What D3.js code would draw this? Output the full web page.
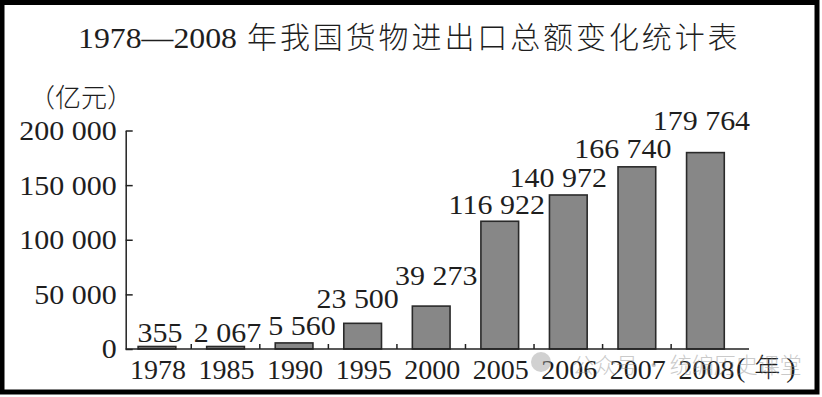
<!DOCTYPE html>
<html>
<head>
<meta charset="utf-8">
<script src="https://cdn.jsdelivr.net/npm/d3@7"></script>
<style>
  html, body { margin: 0; padding: 0; background: #fff; }
  svg { display: block; }
  text { fill: #1e1e1e; font-family: "Liberation Serif", serif; }
  .cjk { font-family: "Noto Sans CJK SC", sans-serif; font-weight: 300; }
  .num { font-family: "Liberation Serif", serif; font-weight: 400; }
</style>
</head>
<body>
<svg id="chart" width="822" height="397"></svg>
<script>
// data
const years = ["1978", "1985", "1990", "1995", "2000", "2005", "2006", "2007", "2008"];
const totals = [355, 2067, 5560, 23500, 39273, 116922, 140972, 166740, 179764];
const yTicks = [0, 50000, 100000, 150000, 200000];

// label nudges (dx, dy from bar top) - layout only, labels in the original are hand placed
const labelNudge = [[3, -7], [2, -5], [8, -8], [-5, -15], [5, -21], [-3, -7], [-10, -8], [-14, -8.5], [-4, -22.5]];

const svg = d3.select("#chart");

// "179 764" style, space instead of comma
const fmt = v => d3.format(",")(v).replace(/,/g, " ");

// the printed digits are a bit wider than Times, stretch them a little
function widen(sel, k) {
    sel.each(function () {
        const w = this.getComputedTextLength();
        d3.select(this)
            .attr("textLength", w * k)
            .attr("lengthAdjust", "spacingAndGlyphs");
    });
}

const x = d3.scaleBand()
    .domain(years)
    .range([122.7, 739.7])
    .paddingInner(0.45)
    .paddingOuter(0.225);

const y = d3.scaleLinear()
    .domain([0, 200000])
    .range([349, 130.5]);

const axisX0 = 125.7, axisX1 = 749;

// frame
svg.append("rect")
    .attr("x", 2).attr("y", 2.5)
    .attr("width", 815).attr("height", 389.5)
    .attr("fill", "none")
    .attr("stroke", "#000")
    .attr("stroke-width", 5);

// title
const title = svg.append("text")
    .attr("y", 48)
    .style("font-size", "30px");
title.append("tspan").attr("class", "num").attr("x", 78)
    .attr("textLength", 159).attr("lengthAdjust", "spacingAndGlyphs")
    .text("1978—2008");
title.append("tspan").attr("class", "cjk").attr("x", 247)
    .style("letter-spacing", "2.9px")
    .text("年我国货物进出口总额变化统计表");

// unit label
svg.append("text")
    .attr("class", "cjk")
    .attr("x", 29).attr("y", 107)
    .style("font-size", "26px")
    .text("（亿元）");

// y axis
const yAxis = d3.axisLeft(y)
    .tickValues(yTicks)
    .tickFormat(fmt)
    .tickSizeInner(-7)
    .tickSizeOuter(0)
    .tickPadding(9);

const gy = svg.append("g")
    .attr("transform", `translate(${axisX0},0)`)
    .call(yAxis);
gy.select(".domain").attr("stroke", "#222").attr("stroke-width", 1.5);
gy.selectAll(".tick line").attr("stroke", "#222").attr("stroke-width", 1.5);
gy.selectAll(".tick text")
    .style("font-family", "Liberation Serif")
    .style("font-size", "28px")
    .attr("fill", "#1e1e1e")
    .call(widen, 1.07);

// bars
svg.append("g").selectAll("rect")
    .data(totals)
    .enter()
    .append("rect")
    .attr("x", (d, i) => x(years[i]))
    .attr("y", d => Math.min(y(d), y(0) - 2.5))
    .attr("width", x.bandwidth())
    .attr("height", d => Math.max(y(0) - y(d), 2.5))
    .attr("fill", "#878787")
    .attr("stroke", "#2a2a2a")
    .attr("stroke-width", 1.6);

// x axis line
svg.append("line")
    .attr("x1", axisX0).attr("x2", axisX1)
    .attr("y1", y(0)).attr("y2", y(0))
    .attr("stroke", "#222")
    .attr("stroke-width", 1.5);

// small separator ticks between categories
svg.append("g").selectAll("line")
    .data(years.slice(1))
    .enter()
    .append("line")
    .attr("x1", d => x(d) - x.step() * x.paddingOuter())
    .attr("x2", d => x(d) - x.step() * x.paddingOuter())
    .attr("y1", y(0))
    .attr("y2", y(0) - 5)
    .attr("stroke", "#222")
    .attr("stroke-width", 1.5);

// year labels
svg.append("g").selectAll("text")
    .data(years)
    .enter()
    .append("text")
    .attr("x", d => x(d) + x.bandwidth() / 2 + 1)
    .attr("y", 378.5)
    .attr("text-anchor", "middle")
    .style("font-size", "28px")
    .text(d => d);

// x unit
const xu = svg.append("text")
    .attr("x", 736).attr("y", 377)
    .style("font-size", "28px");
xu.append("tspan").attr("class", "num").text("(");
xu.append("tspan").attr("class", "cjk").attr("dx", 9).style("font-size", "26px").text("年");
xu.append("tspan").attr("class", "num").attr("dx", 6).text(")");

// value labels
svg.append("g").selectAll("text")
    .data(totals)
    .enter()
    .append("text")
    .attr("x", (d, i) => x(years[i]) + x.bandwidth() / 2 + labelNudge[i][0])
    .attr("y", (d, i) => y(d) + labelNudge[i][1])
    .attr("text-anchor", "middle")
    .style("font-size", "28px")
    .text(fmt)
    .call(widen, 1.07);

// watermark
const wm = svg.append("g").attr("opacity", 0.45);
wm.append("circle")
    .attr("cx", 541).attr("cy", 362).attr("r", 10)
    .attr("fill", "#9a9a9a");
wm.append("text")
    .attr("class", "cjk")
    .attr("x", 572).attr("y", 373)
    .style("font-size", "22px")
    .style("fill", "#8c8c8c")
    .text("公众号 · 统编历史课堂");
</script>
</body>
</html>
